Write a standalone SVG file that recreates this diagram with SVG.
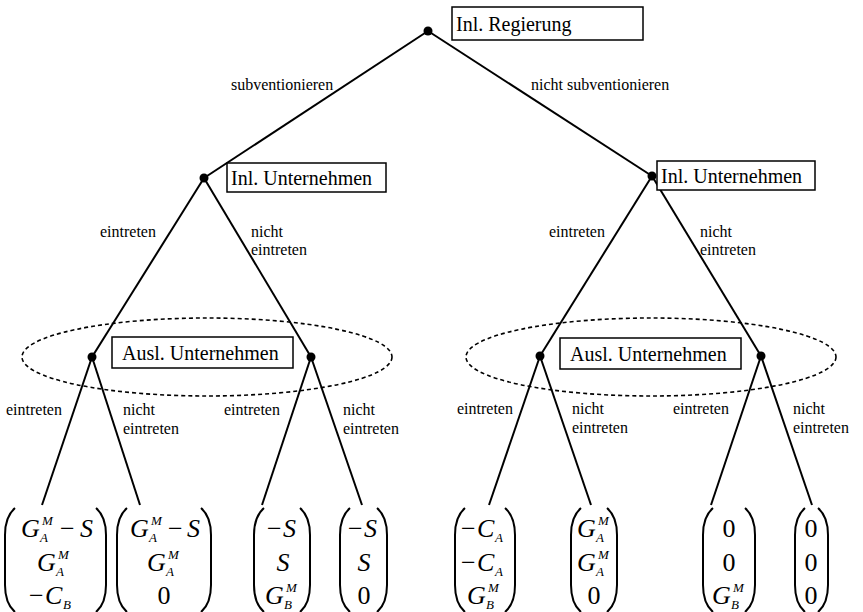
<svg xmlns="http://www.w3.org/2000/svg" width="863" height="612" viewBox="0 0 863 612">
<style>
.ln{stroke:#000;stroke-width:2;fill:none}
.el{stroke:#000;stroke-width:1.6;fill:none;stroke-dasharray:4 3}
.box{fill:#fff;stroke:#000;stroke-width:1.5}
.dot{fill:#000}
.bt{font-family:"Liberation Serif",serif;font-size:20px}
.lb{font-family:"Liberation Serif",serif;font-size:16px}
.mi{font-family:"Liberation Serif",serif;font-size:26px;font-style:italic}
.up{font-style:normal}
.sb{font-size:13px}
.pr{stroke:#000;stroke-width:2;fill:none}
</style>
<defs>
<path id="lp" d="M10,0 C3,6 0,14 0,27 L0,77 C0,90 3,98 10,104"/>
<path id="rp" d="M0,0 C7,6 10,14 10,27 L10,77 C10,90 7,98 0,104"/>
</defs>

<g id="infosets">
<ellipse class="el" cx="207" cy="357" rx="185" ry="39"/>
<ellipse class="el" cx="651" cy="357" rx="185" ry="39"/>
</g>

<g id="connectors" class="ln">
<line x1="428" y1="31" x2="204" y2="178"/>
<line x1="428" y1="31" x2="652" y2="176"/>
<line x1="204" y1="178" x2="92" y2="357"/>
<line x1="204" y1="178" x2="311" y2="357"/>
<line x1="652" y1="176" x2="540" y2="356"/>
<line x1="652" y1="176" x2="761" y2="356"/>
<line x1="92" y1="357" x2="42" y2="505"/>
<line x1="92" y1="357" x2="140" y2="505"/>
<line x1="311" y1="357" x2="262" y2="505"/>
<line x1="311" y1="357" x2="362" y2="505"/>
<line x1="540" y1="356" x2="489" y2="505"/>
<line x1="540" y1="356" x2="591" y2="505"/>
<line x1="761" y1="356" x2="711" y2="505"/>
<line x1="761" y1="356" x2="812" y2="505"/>
</g>

<g id="edge-labels" class="lb">
<text x="231" y="90">subventionieren</text>
<text x="531" y="90">nicht subventionieren</text>
<text x="100" y="237">eintreten</text>
<text x="251" y="237">nicht</text>
<text x="251" y="255">eintreten</text>
<text x="549" y="237">eintreten</text>
<text x="700" y="237">nicht</text>
<text x="700" y="255">eintreten</text>
<text x="6" y="415">eintreten</text>
<text x="123" y="415">nicht</text>
<text x="123" y="434">eintreten</text>
<text x="224" y="415">eintreten</text>
<text x="343" y="415">nicht</text>
<text x="343" y="434">eintreten</text>
<text x="457" y="414">eintreten</text>
<text x="572" y="414">nicht</text>
<text x="572" y="433">eintreten</text>
<text x="673" y="414">eintreten</text>
<text x="793" y="414">nicht</text>
<text x="793" y="433">eintreten</text>
</g>

<g id="root">
<circle class="dot" cx="428" cy="31" r="4.5"/>
<rect class="box" x="452" y="7" width="191" height="33"/>
<text class="bt" x="456" y="31">Inl. Regierung</text>
</g>

<g id="inl-left">
<circle class="dot" cx="204" cy="178" r="4.5"/>
<rect class="box" x="227" y="163" width="159" height="29"/>
<text class="bt" x="231" y="185">Inl. Unternehmen</text>
</g>

<g id="inl-right">
<circle class="dot" cx="652" cy="176" r="4.5"/>
<rect class="box" x="657" y="161" width="158" height="29"/>
<text class="bt" x="661" y="183">Inl. Unternehmen</text>
</g>

<g id="ausl-left">
<circle class="dot" cx="92" cy="357" r="4.5"/>
<circle class="dot" cx="311" cy="357" r="4.5"/>
<rect class="box" x="112" y="337" width="181" height="31"/>
<text class="bt" x="122" y="360">Ausl. Unternehmen</text>
</g>

<g id="ausl-right">
<circle class="dot" cx="540" cy="356" r="4.5"/>
<circle class="dot" cx="761" cy="356" r="4.5"/>
<rect class="box" x="560" y="338" width="181" height="31"/>
<text class="bt" x="570" y="361">Ausl. Unternehmen</text>
</g>

<g id="payoff1">
<use href="#lp" x="5" y="508" class="pr"/><use href="#rp" x="96" y="508" class="pr"/>
<text class="mi" x="21" y="537">G<tspan class="sb" x="42" y="525">M</tspan><tspan class="sb" x="40" y="542">A</tspan><tspan class="up" x="60" y="537">−</tspan><tspan x="80" y="537">S</tspan></text>
<text class="mi" x="37" y="571">G<tspan class="sb" x="58" y="559">M</tspan><tspan class="sb" x="56" y="576">A</tspan></text>
<text class="mi" x="29" y="604"><tspan class="up">−</tspan><tspan x="45">C</tspan><tspan class="sb" x="63" y="609">B</tspan></text>
</g>

<g id="payoff2">
<use href="#lp" x="117" y="508" class="pr"/><use href="#rp" x="201" y="508" class="pr"/>
<text class="mi" x="130" y="537">G<tspan class="sb" x="151" y="525">M</tspan><tspan class="sb" x="149" y="542">A</tspan><tspan class="up" x="168" y="537">−</tspan><tspan x="187" y="537">S</tspan></text>
<text class="mi" x="147" y="571">G<tspan class="sb" x="168" y="559">M</tspan><tspan class="sb" x="166" y="576">A</tspan></text>
<text class="mi up" x="164" y="604" text-anchor="middle">0</text>
</g>

<g id="payoff3">
<use href="#lp" x="254" y="508" class="pr"/><use href="#rp" x="300" y="508" class="pr"/>
<text class="mi" x="267" y="537"><tspan class="up">−</tspan><tspan x="283">S</tspan></text>
<text class="mi" x="283" y="571" text-anchor="middle">S</text>
<text class="mi" x="265" y="604">G<tspan class="sb" x="286" y="592">M</tspan><tspan class="sb" x="284" y="609">B</tspan></text>
</g>

<g id="payoff4">
<use href="#lp" x="340" y="508" class="pr"/><use href="#rp" x="377" y="508" class="pr"/>
<text class="mi" x="348" y="537"><tspan class="up">−</tspan><tspan x="364">S</tspan></text>
<text class="mi" x="364" y="571" text-anchor="middle">S</text>
<text class="mi up" x="364" y="604" text-anchor="middle">0</text>
</g>

<g id="payoff5">
<use href="#lp" x="455" y="508" class="pr"/><use href="#rp" x="505" y="508" class="pr"/>
<text class="mi" x="461" y="537"><tspan class="up">−</tspan><tspan x="477">C</tspan><tspan class="sb" x="495" y="542">A</tspan></text>
<text class="mi" x="461" y="571"><tspan class="up">−</tspan><tspan x="477">C</tspan><tspan class="sb" x="495" y="576">A</tspan></text>
<text class="mi" x="467" y="604">G<tspan class="sb" x="488" y="592">M</tspan><tspan class="sb" x="486" y="609">B</tspan></text>
</g>

<g id="payoff6">
<use href="#lp" x="571" y="508" class="pr"/><use href="#rp" x="607" y="508" class="pr"/>
<text class="mi" x="577" y="537">G<tspan class="sb" x="598" y="525">M</tspan><tspan class="sb" x="596" y="542">A</tspan></text>
<text class="mi" x="577" y="571">G<tspan class="sb" x="598" y="559">M</tspan><tspan class="sb" x="596" y="576">A</tspan></text>
<text class="mi up" x="594" y="604" text-anchor="middle">0</text>
</g>

<g id="payoff7">
<use href="#lp" x="703" y="508" class="pr"/><use href="#rp" x="745" y="508" class="pr"/>
<text class="mi up" x="729" y="537" text-anchor="middle">0</text>
<text class="mi up" x="729" y="571" text-anchor="middle">0</text>
<text class="mi" x="712" y="604">G<tspan class="sb" x="733" y="592">M</tspan><tspan class="sb" x="731" y="609">B</tspan></text>
</g>

<g id="payoff8">
<use href="#lp" x="795" y="508" class="pr"/><use href="#rp" x="818" y="508" class="pr"/>
<text class="mi up" x="811" y="537" text-anchor="middle">0</text>
<text class="mi up" x="811" y="571" text-anchor="middle">0</text>
<text class="mi up" x="811" y="604" text-anchor="middle">0</text>
</g>
</svg>
